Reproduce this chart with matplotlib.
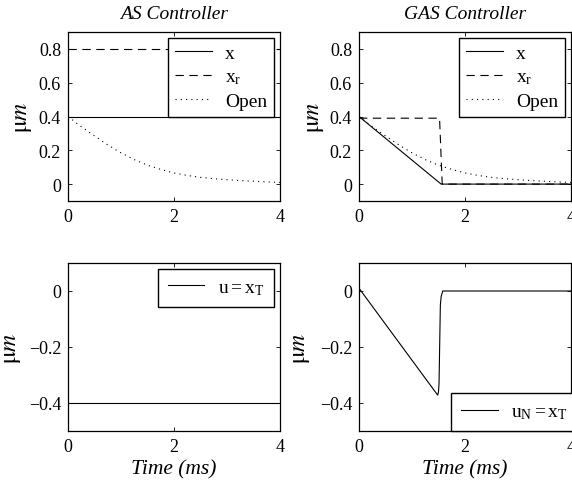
import matplotlib
matplotlib.use("Agg")
import matplotlib.pyplot as plt

plt.rcParams['font.family'] = ['Liberation Serif', 'DejaVu Serif']
plt.rcParams['mathtext.fontset'] = 'stix'
plt.rcParams['lines.scale_dashes'] = False

# Time axis (ms) and trajectories (µm)
t_span = [0.0, 4.0]
t_open = [0.0, 0.25, 0.5, 0.75, 1.0, 1.25, 1.5, 1.75, 2.0, 2.25, 2.5,
          2.75, 3.0, 3.25, 3.5, 3.75, 4.0]
x_open = [0.40, 0.340, 0.285, 0.232, 0.185, 0.145, 0.112, 0.087, 0.066,
          0.051, 0.040, 0.032, 0.026, 0.021, 0.017, 0.013, 0.010]

# AS controller
x_as = [0.4, 0.4]
xr_as = [0.8, 0.8]
u_as = [-0.4, -0.4]

# GAS controller
t_gas_x = [0.0, 1.55, 4.0]
x_gas = [0.40, 0.0, 0.0]
t_gas_xr = [0.0, 1.52, 1.57, 4.0]
xr_gas = [0.39, 0.39, 0.0, 0.0]
t_gas_u = [0.0, 1.485, 1.50, 1.51, 1.535, 1.55, 1.58, 4.0]
u_gas = [0.01, -0.372, -0.36, -0.33, -0.05, -0.02, 0.0, 0.0]

titles = ['AS Controller', 'GAS Controller']
x_ticks = [0, 2, 4]
top_yticks = [0, 0.2, 0.4, 0.6, 0.8]
top_yticklabels = ['0', '0.2', '0.4', '0.6', '0.8']
bot_yticks = [-0.4, -0.2, 0]
bot_yticklabels = ['\u22120.4', '\u22120.2', '0']

W, H = 572, 481
fig = plt.figure(figsize=(W / 100, H / 100), dpi=100)


def px_axes(left, top, right, bottom):
    return fig.add_axes([left / W, 1 - bottom / H, (right - left) / W, (bottom - top) / H])


ax_tl = px_axes(68, 33, 280, 202)
ax_tr = px_axes(359, 33, 571, 202)
ax_bl = px_axes(68, 264, 280, 432)
ax_br = px_axes(359, 264, 571, 432)

LW = 0.8
DASH = (0, (6, 4))
DOT = (0, (0.8, 3.0))

for ax in (ax_tl, ax_tr, ax_bl, ax_br):
    ax.set_xlim(0, 4)
    ax.set_xticks(x_ticks)
    ax.tick_params(direction='in', length=3, width=0.6, top=True, right=True,
                   labelsize=13, pad=5)
    for sp in ax.spines.values():
        sp.set_linewidth(0.9)

for ax, title in zip((ax_tl, ax_tr), titles):
    ax.set_ylim(-0.1, 0.9)
    ax.set_yticks(top_yticks)
    ax.set_yticklabels(top_yticklabels)
    ax.set_title(title, style='italic', fontsize=14, pad=10)
    ax.set_ylabel(r'$\mathrm{\mu}m$', fontsize=17)

for ax in (ax_bl, ax_br):
    ax.set_ylim(-0.5, 0.1)
    ax.set_yticks(bot_yticks)
    ax.set_yticklabels(bot_yticklabels)
    ax.set_ylabel(r'$\mathrm{\mu}m$', fontsize=17)
    ax.set_xlabel('Time (ms)', style='italic', fontsize=15.5, labelpad=3)

# y-label placement (axes fraction)
ax_tl.yaxis.set_label_coords(-0.16, 0.5)
ax_tr.yaxis.set_label_coords(-0.155, 0.5)
ax_bl.yaxis.set_label_coords(-0.21, 0.5)
ax_br.yaxis.set_label_coords(-0.22, 0.5)

leg_kw = dict(fontsize=14, frameon=True, fancybox=False, framealpha=1,
              edgecolor='black', handlelength=1.9, handletextpad=0.7,
              borderpad=0.35, labelspacing=0.3)

# AS controller, states
ax_tl.plot(t_span, x_as, color='black', lw=LW, label='x')
ax_tl.plot(t_span, xr_as, color='black', lw=LW, linestyle=DASH, label=r'$\mathregular{x_r}$')
ax_tl.plot(t_open, x_open, color='black', lw=LW, linestyle=DOT, label='Open')
lg = ax_tl.legend(loc='upper right', borderaxespad=0.3, **leg_kw)
lg.get_frame().set_linewidth(1.0)

# GAS controller, states
ax_tr.plot(t_gas_x, x_gas, color='black', lw=LW, label='x')
ax_tr.plot(t_gas_xr, xr_gas, color='black', lw=LW, linestyle=DASH, label=r'$\mathregular{x_r}$')
ax_tr.plot(t_open, x_open, color='black', lw=LW, linestyle=DOT, label='Open')
lg = ax_tr.legend(loc='upper right', borderaxespad=0.3, **leg_kw)
lg.get_frame().set_linewidth(1.0)

# AS controller, input
ax_bl.plot(t_span, u_as, color='black', lw=LW, label=r'$\mathregular{u = x_T}$')
lg = ax_bl.legend(loc='upper right', borderaxespad=0.3,
                  **{**leg_kw, 'borderpad': 0.5})
lg.get_frame().set_linewidth(1.0)

# GAS controller, input
ax_br.plot(t_gas_u, u_gas, color='black', lw=LW, label=r'$\mathregular{u_N = x_T}$')
lg = ax_br.legend(loc='lower left', bbox_to_anchor=(0.434, 0.0), borderaxespad=0.0,
                  **{**leg_kw, 'borderpad': 0.5})
lg.get_frame().set_linewidth(1.0)

fig.savefig('out.png', dpi=100)
